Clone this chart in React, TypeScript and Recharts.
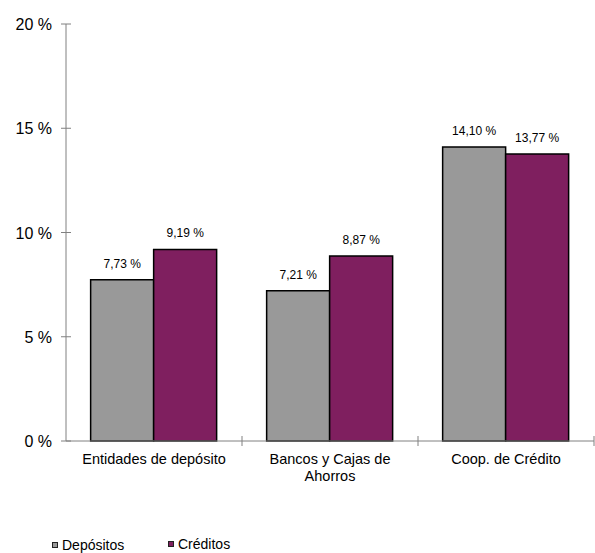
import React from "react";
import { BarChart, Bar, XAxis, YAxis, LabelList } from "recharts";

// categories and values
const categories = ["Entidades de depósito", "Bancos y Cajas de Ahorros", "Coop. de Crédito"];
const categoryLines = [["Entidades de depósito"], ["Bancos y Cajas de", "Ahorros"], ["Coop. de Crédito"]];
const depositos = [7.73, 7.21, 14.1];
const creditos = [9.19, 8.87, 13.77];
const yTicks = [0, 5, 10, 15, 20];

const data = categories.map((name, i) => ({
  name,
  depositos: depositos[i],
  creditos: creditos[i],
}));

const W = 595;
const H = 553;
const AXIS_X = 66;
const RIGHT = 1;
const BAND = (W - AXIS_X - RIGHT) / categories.length;
const FONT = "'Liberation Sans', Arial, sans-serif";
const GREY = "#999999";
const PLUM = "#7f1f5f";
const AXIS_COLOR = "#808080";

const fmt = (v: number) => v.toFixed(2).replace(".", ",") + " %";

const YTick = (props: any) => {
  const { y, payload } = props;
  return (
    <g>
      <line x1={AXIS_X - 5} x2={AXIS_X + 5} y1={y} y2={y} stroke={AXIS_COLOR} />
      <text x={AXIS_X - 14} y={y} dy={6} textAnchor="end" fontSize={16} fill="#000" fontFamily={FONT}>
        {payload.value} %
      </text>
    </g>
  );
};

const XTick = (props: any) => {
  const { x, y, index } = props;
  const lines = categoryLines[index] || [];
  const axisY = y - 8;
  const right = x + BAND / 2;
  return (
    <g>
      <line x1={right} x2={right} y1={axisY - 5} y2={axisY + 5} stroke={AXIS_COLOR} />
      <text x={x} y={axisY + 23} textAnchor="middle" fontSize={14.5} fill="#000" fontFamily={FONT}>
        {lines.map((l, k) => (
          <tspan key={k} x={x} dy={k === 0 ? 0 : 17}>
            {l}
          </tspan>
        ))}
      </text>
    </g>
  );
};

const LegendBox = ({ color, label }: { color: string; label: string }) => (
  <span style={{ display: "inline-flex", alignItems: "center" }}>
    <span
      style={{
        display: "inline-block",
        width: 4,
        height: 4,
        background: color,
        border: "1.5px solid #222",
        marginRight: 4,
      }}
    />
    <span>{label}</span>
  </span>
);

export default function App() {
  return (
    <div style={{ position: "absolute", left: 0, top: 0, width: W, height: H, background: "#fff" }}>
      <BarChart
        width={W}
        height={H}
        data={data}
        margin={{ top: 24, right: RIGHT, left: 0, bottom: 72 }}
        barGap={0}
        barCategoryGap="14%"
      >
        <YAxis
          width={AXIS_X}
          domain={[0, 20]}
          ticks={yTicks}
          interval={0}
          tickLine={false}
          axisLine={{ stroke: AXIS_COLOR }}
          tick={<YTick />}
        />
        <XAxis
          dataKey="name"
          height={40}
          interval={0}
          tickLine={false}
          tickSize={0}
          tickMargin={8}
          axisLine={{ stroke: AXIS_COLOR }}
          tick={<XTick />}
        />
        <Bar dataKey="depositos" fill={GREY} stroke="#000" strokeWidth={1.5} isAnimationActive={false}>
          <LabelList dataKey="depositos" position="top" offset={12} formatter={fmt as any} fontSize={12} fill="#000" fontFamily={FONT} />
        </Bar>
        <Bar dataKey="creditos" fill={PLUM} stroke="#000" strokeWidth={1.5} isAnimationActive={false}>
          <LabelList dataKey="creditos" position="top" offset={12} formatter={fmt as any} fontSize={12} fill="#000" fontFamily={FONT} />
        </Bar>
      </BarChart>
      <div
        style={{
          position: "absolute",
          left: 52,
          top: 535,
          fontFamily: FONT,
          fontSize: 14,
          display: "flex",
          lineHeight: "16px",
        }}
      >
        <div style={{ width: 116 }}>
          <LegendBox color={GREY} label="Depósitos" />
        </div>
        <LegendBox color={PLUM} label="Créditos" />
      </div>
    </div>
  );
}
